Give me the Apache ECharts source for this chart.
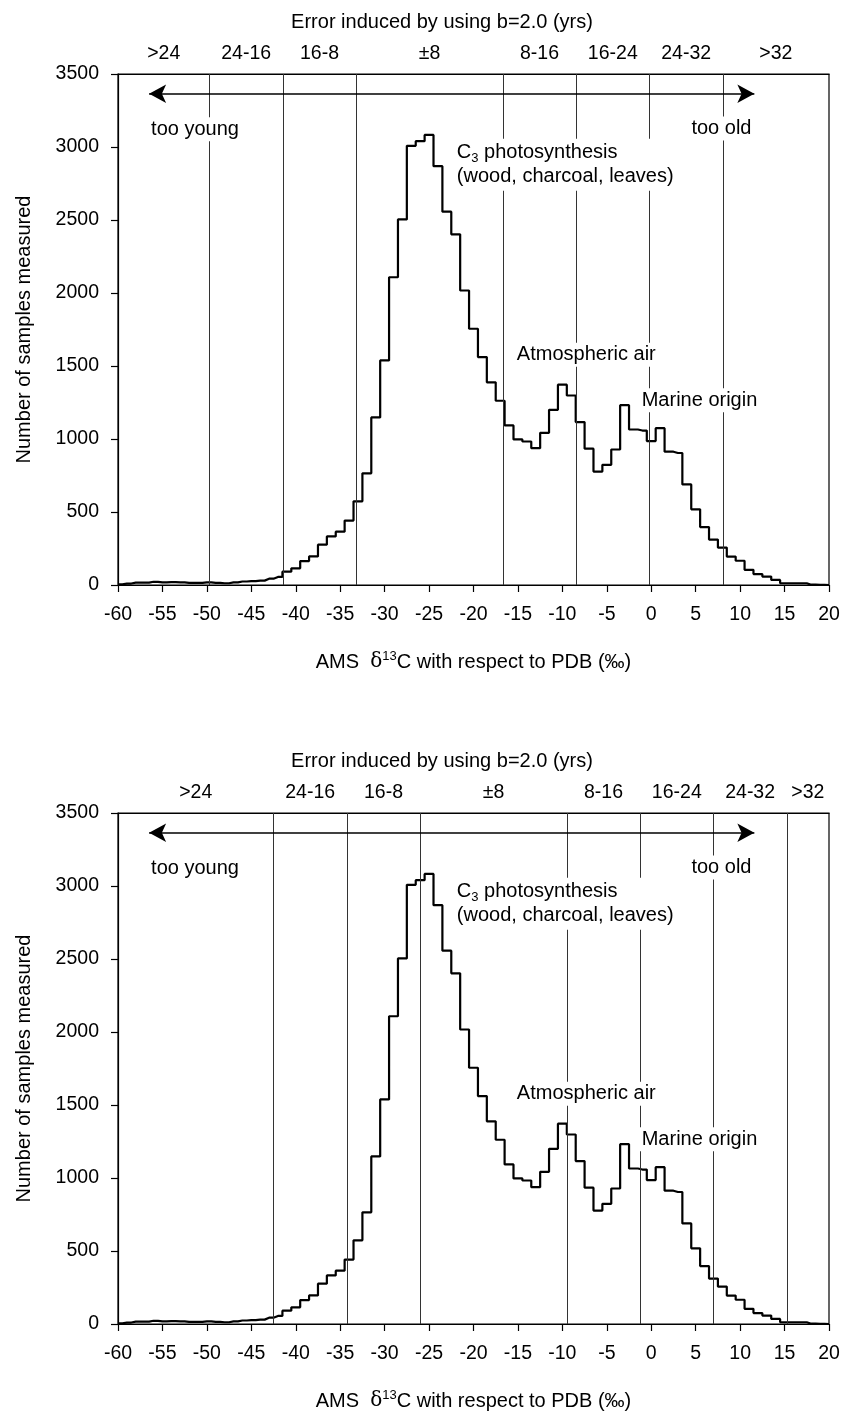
<!DOCTYPE html>
<html>
<head>
<meta charset="utf-8">
<title>AMS d13C histogram</title>
<script src="https://cdn.jsdelivr.net/npm/echarts@6.0.0/dist/echarts.min.js"></script>
<style>
html, body { margin: 0; padding: 0; background: #fff; }
#chart { width: 844px; height: 1411px; }
</style>
</head>
<body>
<div id="chart"></div>
<script>
// bins are 1 permil wide, centred on whole numbers starting at -60
const binStart = -60
const counts = [
  5, 10, 16, 16, 22, 18, 20, 18, 14, 14,          // -60 .. -51
  18, 14, 12, 18, 24, 27, 30, 43, 55, 91,         // -50 .. -41
  114, 164, 196, 276, 333, 365, 441, 573, 765, 1148, // -40 .. -31
  1538, 2108, 2504, 3008, 3040, 3083, 2869, 2557, 2402, 2017, // -30 .. -21
  1755, 1561, 1388, 1262, 1093, 997, 983, 937, 1042, 1200,   // -20 .. -11
  1372, 1298, 1116, 934, 777, 823, 928, 1232, 1065, 1058,    // -10 .. -1
  986, 1074, 913, 904, 689, 518, 397, 311, 256, 195,         // 0 .. 9
  166, 104, 75, 58, 35, 12, 12, 12, 2, 1,                    // 10 .. 19
  0                                                          // 20
]

// error band edges for each panel (outer ends are the axis limits)
const bandsTop = [-60, -49.7, -41.45, -33.2, -16.7, -8.45, -0.2, 8.05, 20]
const bandsBottom = [-60, -42.5, -34.25, -26.0, -9.5, -1.25, 7.0, 15.25, 20]
const bandLabels = ['>24', '24-16', '16-8', '\u00b18', '8-16', '16-24', '24-32', '>32']

// annotations (x in permil, y in samples)
const noteText = ['too young', 'too old', '{a|C}{s|3}{a| photosynthesis}\n{a|(wood, charcoal, leaves)}', 'Atmospheric air', 'Marine origin']
const noteX = [-56.5, 11.5, -22.1, -15.35, -1.3]
const noteY = [3122, 3126, 2879, 1577, 1266]
const noteSide = ['right', 'left', 'right', 'right', 'right']

// young/old arrow
const arrowX = [-56.5, 11.6]
const arrowY = 3365

const FONT = '"Liberation Sans", Arial, sans-serif'
const INK = '#000'

const histData = counts.map((c, i) => [binStart + i, c])

const chart = echarts.init(document.getElementById('chart'))

const grids = []
const xAxes = []
const yAxes = []
const series = []
const titles = []

function addPanel(i, top, bands) {
  const mids = []
  for (let k = 0; k < bands.length - 1; k++) mids.push((bands[k] + bands[k + 1]) / 2)

  grids.push({ left: 118, right: 15, top: top, height: 511, show: true, borderColor: '#000', borderWidth: 1.2, outerBoundsMode: 'none' })

  titles.push({
    text: 'Error induced by using b=2.0 (yrs)',
    left: 442, top: top - 62, textAlign: 'center', padding: 0,
    textStyle: { fontSize: 20, fontWeight: 'normal', fontFamily: FONT, color: INK, lineHeight: 20 }
  })

  // bottom axis
  xAxes.push({
    gridIndex: i, type: 'value', position: 'bottom', min: -60, max: 20, interval: 5,
    axisLine: { show: true, onZero: false, lineStyle: { color: '#000', width: 1.2 } },
    axisTick: { show: true, length: 7, lineStyle: { color: '#000', width: 1.2 } },
    axisLabel: { color: INK, fontSize: 19.5, fontFamily: FONT, margin: 20 },
    splitLine: { show: false },
    name: '{a|AMS  }{d|\u03b4}{s|13}{a|C with respect to PDB (\u2030)}',
    nameLocation: 'middle', nameGap: 65,
    nameTextStyle: {
      color: INK,
      rich: {
        a: { fontSize: 20, fontFamily: FONT, color: INK, lineHeight: 24 },
        d: { fontSize: 20, fontFamily: '"DejaVu Serif", serif', color: INK, lineHeight: 24 },
        s: { fontSize: 13, fontFamily: FONT, color: INK, lineHeight: 13, verticalAlign: 'top' }
      }
    }
  })
  // top axis carrying the error bands
  xAxes.push({
    gridIndex: i, type: 'value', position: 'top', min: -60, max: 20,
    axisLine: { show: true, onZero: false, lineStyle: { color: '#000', width: 1.2 } },
    axisTick: { show: false },
    axisLabel: {
      customValues: mids, color: INK, fontSize: 19.5, fontFamily: FONT, margin: 10,
      formatter: v => {
        let best = 0
        mids.forEach((m, k) => { if (Math.abs(m - v) < Math.abs(mids[best] - v)) best = k })
        return bandLabels[best]
      }
    },
    splitLine: { show: false }
  })

  yAxes.push({
    gridIndex: i, type: 'value', min: 0, max: 3500, interval: 500,
    axisLine: { show: true, onZero: false, lineStyle: { color: '#000', width: 1.2 } },
    axisTick: { show: true, length: 7, lineStyle: { color: '#000', width: 1.2 } },
    axisLabel: { color: INK, fontSize: 19.5, fontFamily: FONT, margin: 19, formatter: v => String(v) },
    splitLine: { show: false },
    name: 'Number of samples measured', nameLocation: 'middle', nameGap: 84, nameRotate: 90,
    nameTextStyle: { color: INK, fontSize: 20, fontFamily: FONT }
  })

  series.push({
    type: 'line', xAxisIndex: 2 * i, yAxisIndex: i,
    step: 'middle', symbol: 'none', silent: true,
    data: histData,
    lineStyle: { color: '#000', width: 2.2 },
    markLine: {
      silent: true, symbol: ['none', 'none'], label: { show: false },
      lineStyle: { color: '#333', width: 1, type: 'solid' },
      data: bands.slice(1, -1).map(v => ({ xAxis: v }))
    }
  })

  series.push({
    type: 'scatter', xAxisIndex: 2 * i, yAxisIndex: i, z: 10,
    symbolSize: 0, silent: true,
    itemStyle: { opacity: 1 },
    data: noteX.map((x, k) => ({ value: [x, noteY[k]], label: { position: noteSide[k] } })),
    label: {
      show: true, distance: 0, color: INK, fontSize: 20, fontFamily: FONT,
      backgroundColor: '#fff', padding: [2, 2], opacity: 1,
      formatter: p => noteText[p.dataIndex],
      rich: {
        a: { fontSize: 20, fontFamily: FONT, color: INK, lineHeight: 24 },
        s: { fontSize: 13, fontFamily: FONT, color: INK, lineHeight: 13, verticalAlign: 'bottom' }
      }
    },
    markLine: {
      silent: true, symbol: ['arrow', 'arrow'], symbolSize: [14, 17],
      label: { show: false },
      lineStyle: { color: '#000', width: 1.6, type: 'solid' },
      itemStyle: { color: '#000' },
      data: [[{ coord: [arrowX[0], arrowY] }, { coord: [arrowX[1], arrowY] }]]
    }
  })
}

addPanel(0, 74, bandsTop)
addPanel(1, 813, bandsBottom)

chart.setOption({
  animation: false,
  backgroundColor: '#fff',
  title: titles,
  grid: grids,
  xAxis: xAxes,
  yAxis: yAxes,
  series: series
})
</script>
</body>
</html>
